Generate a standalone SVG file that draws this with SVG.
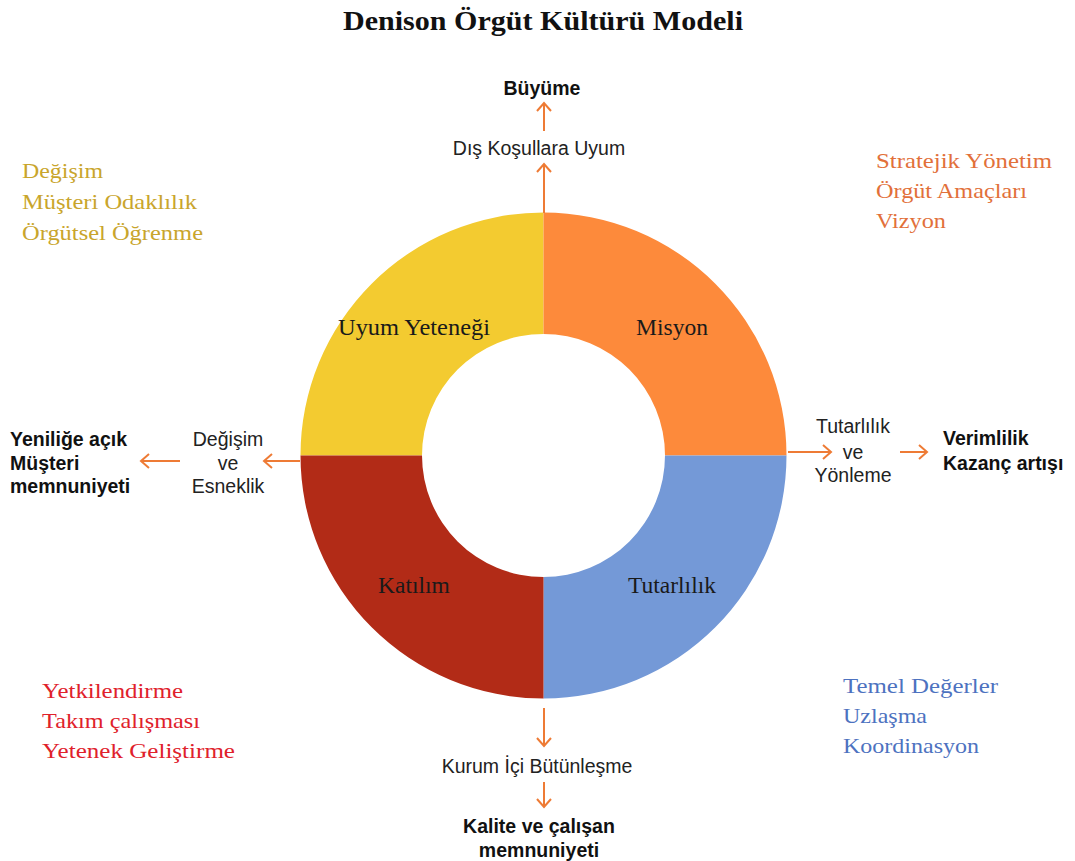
<svg xmlns="http://www.w3.org/2000/svg" width="1075" height="861" viewBox="0 0 1075 861">
<style>
.title{font-family:"Liberation Serif","Times New Roman",serif;font-weight:bold;font-size:28px;fill:#111;text-anchor:middle}
.seg{font-family:"Liberation Serif","Times New Roman",serif;font-size:23.5px;fill:#1a1a1a;text-anchor:middle}
.lst{font-family:"Liberation Serif","Times New Roman",serif;font-size:22px}
.reg{font-family:"Liberation Sans",Arial,sans-serif;font-size:19.5px;fill:#222}
.bld{font-family:"Liberation Sans",Arial,sans-serif;font-size:19.5px;font-weight:bold;fill:#111}
.mid{text-anchor:middle}
.arr{stroke:#EE7B35;stroke-width:2;fill:none;marker-end:url(#chev)}
</style>
<defs>
<marker id="chev" markerUnits="userSpaceOnUse" markerWidth="14" markerHeight="18" refX="9" refY="8" orient="auto" viewBox="0 0 14 16">
<path d="M1,1 L9,8 L1,15" fill="none" stroke="#EE7B35" stroke-width="2"/>
</marker>
</defs>
<rect width="1075" height="861" fill="#fff"/>
<text class="title" x="543" y="30" textLength="400" lengthAdjust="spacingAndGlyphs">Denison Örgüt Kültürü Modeli</text>

<g id="ring">
<g id="uyum">
<path d="M300.5,455.5 A243,243 0 0 1 543.5,212.5 L543.5,334 A121.5,121.5 0 0 0 422,455.5 Z" fill="#F3CB30"/>
<text class="seg" x="414" y="335" textLength="152" lengthAdjust="spacingAndGlyphs">Uyum Yeteneği</text>
</g>
<g id="misyon">
<path d="M543.5,212.5 A243,243 0 0 1 786.5,455.5 L665,455.5 A121.5,121.5 0 0 0 543.5,334 Z" fill="#FD8A3B"/>
<text class="seg" x="672" y="335">Misyon</text>
</g>
<g id="tutarlilik">
<path d="M786.5,455.5 A243,243 0 0 1 543.5,698.5 L543.5,577 A121.5,121.5 0 0 0 665,455.5 Z" fill="#7499D7"/>
<text class="seg" x="672" y="593">Tutarlılık</text>
</g>
<g id="katilim">
<path d="M543.5,698.5 A243,243 0 0 1 300.5,455.5 L422,455.5 A121.5,121.5 0 0 0 543.5,577 Z" fill="#B22B17"/>
<text class="seg" x="414" y="593">Katılım</text>
</g>
</g>

<g id="connectors">
<line class="arr" x1="544" y1="213" x2="544" y2="164"/>
<line class="arr" x1="544" y1="131" x2="544" y2="103"/>
<line class="arr" x1="300" y1="461" x2="264" y2="461"/>
<line class="arr" x1="180" y1="461" x2="141" y2="461"/>
<line class="arr" x1="788" y1="452" x2="831" y2="452"/>
<line class="arr" x1="900" y1="452" x2="927" y2="452"/>
<line class="arr" x1="544" y1="708" x2="544" y2="746"/>
<line class="arr" x1="544" y1="782" x2="544" y2="807"/>
</g>

<g id="top-labels">
<text class="bld mid" x="542" y="95">Büyüme</text>
<text class="reg mid" x="539" y="155">Dış Koşullara Uyum</text>
</g>

<g id="left-labels">
<text class="reg mid" x="228" y="446">Değişim</text>
<text class="reg mid" x="228" y="470">ve</text>
<text class="reg mid" x="228" y="493">Esneklik</text>
<text class="bld" x="10" y="446">Yeniliğe açık</text>
<text class="bld" x="10" y="470">Müşteri</text>
<text class="bld" x="10" y="493">memnuniyeti</text>
</g>

<g id="right-labels">
<text class="reg mid" x="853" y="433">Tutarlılık</text>
<text class="reg mid" x="853" y="459">ve</text>
<text class="reg mid" x="853" y="482">Yönleme</text>
<text class="bld" x="943" y="445">Verimlilik</text>
<text class="bld" x="943" y="470">Kazanç artışı</text>
</g>

<g id="bottom-labels">
<text class="reg mid" x="537" y="773">Kurum  İçi Bütünleşme</text>
<text class="bld mid" x="539" y="833">Kalite ve çalışan</text>
<text class="bld mid" x="539" y="857">memnuniyeti</text>
</g>

<g id="uyum-list" class="lst" fill="#C9A52C">
<text x="22" y="178" textLength="81" lengthAdjust="spacingAndGlyphs">Değişim</text>
<text x="22" y="209" textLength="175" lengthAdjust="spacingAndGlyphs">Müşteri Odaklılık</text>
<text x="22" y="240" textLength="181" lengthAdjust="spacingAndGlyphs">Örgütsel Öğrenme</text>
</g>
<g id="misyon-list" class="lst" fill="#E2703A">
<text x="876" y="168" textLength="176" lengthAdjust="spacingAndGlyphs">Stratejik Yönetim</text>
<text x="876" y="198" textLength="151" lengthAdjust="spacingAndGlyphs">Örgüt Amaçları</text>
<text x="876" y="228" textLength="70" lengthAdjust="spacingAndGlyphs">Vizyon</text>
</g>
<g id="katilim-list" class="lst" fill="#E0212B">
<text x="42" y="698" textLength="141" lengthAdjust="spacingAndGlyphs">Yetkilendirme</text>
<text x="42" y="728" textLength="158" lengthAdjust="spacingAndGlyphs">Takım çalışması</text>
<text x="42" y="758" textLength="193" lengthAdjust="spacingAndGlyphs">Yetenek Geliştirme</text>
</g>
<g id="tutarlilik-list" class="lst" fill="#4D72C0">
<text x="843" y="693" textLength="155" lengthAdjust="spacingAndGlyphs">Temel Değerler</text>
<text x="843" y="723" textLength="84" lengthAdjust="spacingAndGlyphs">Uzlaşma</text>
<text x="843" y="753" textLength="136" lengthAdjust="spacingAndGlyphs">Koordinasyon</text>
</g>
</svg>
